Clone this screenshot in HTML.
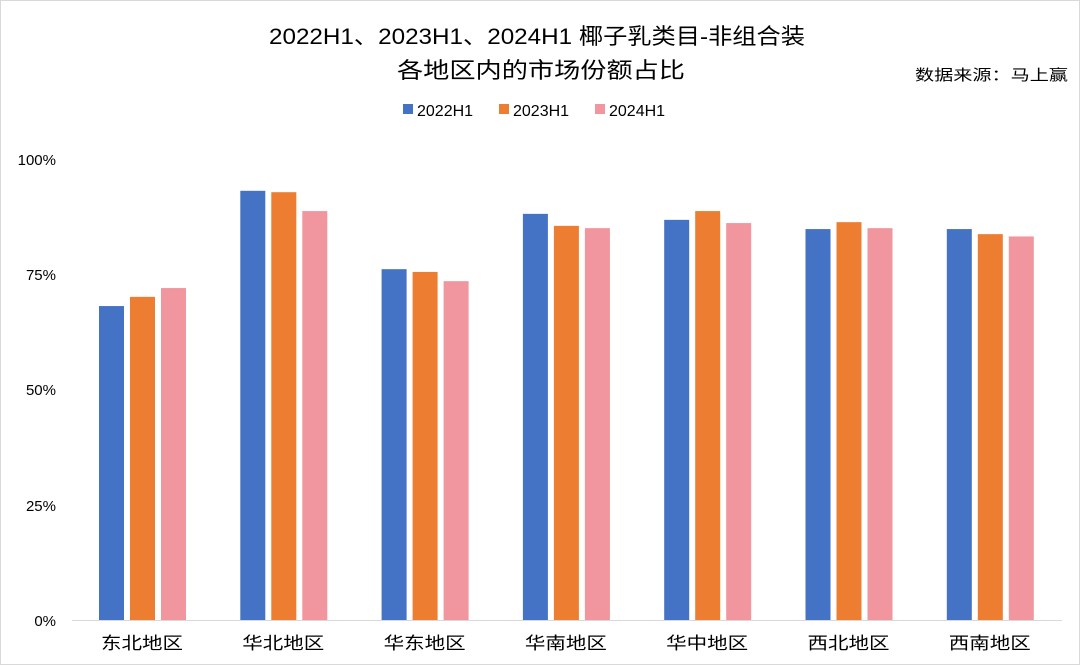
<!DOCTYPE html>
<html><head><meta charset="utf-8"><style>
html,body{margin:0;padding:0;background:#fff}
svg{display:block}
text{font-family:"Liberation Sans","Noto Sans CJK SC",sans-serif;fill:#000}
</style></head><body>
<svg width="1080" height="665" viewBox="0 0 1080 665" xmlns="http://www.w3.org/2000/svg">
<rect x="0.5" y="0.5" width="1079" height="664" fill="#fff" stroke="#d9d9d9"/>
<text x="269" y="44" font-size="22" textLength="536" lengthAdjust="spacingAndGlyphs">2022H1、2023H1、2024H1 椰子乳类目-非组合装</text>
<text x="397" y="78" font-size="22" textLength="288" lengthAdjust="spacingAndGlyphs">各地区内的市场份额占比</text>
<text x="915" y="80" font-size="15" textLength="153" lengthAdjust="spacingAndGlyphs" fill="#333">数据来源：马上赢</text>
<rect x="403" y="104" width="10" height="10" fill="#4472C4"/><text x="417" y="116" font-size="16">2022H1</text>
<rect x="499" y="104" width="10" height="10" fill="#ED7D31"/><text x="513" y="116" font-size="16">2023H1</text>
<rect x="595" y="104" width="10" height="10" fill="#F1959F"/><text x="609" y="116" font-size="16">2024H1</text>
<g font-size="15" text-anchor="end">
<text x="56" y="165">100%</text><text x="56" y="280">75%</text><text x="56" y="395">50%</text><text x="56" y="511">25%</text><text x="56" y="626">0%</text>
</g>
<line x1="72" y1="620.5" x2="1062" y2="620.5" stroke="#d9d9d9"/>
<g id="bars"></g>
<g font-size="17" id="labels"></g>
<script>
var v=[[68.1,70.1,72.0],[93.1,92.8,88.7],[76.1,75.5,73.5],[88.1,85.5,85.0],[86.8,88.7,86.1],[84.8,86.3,85.0],[84.8,83.7,83.2]];
var n=["东北地区","华北地区","华东地区","华南地区","华中地区","西北地区","西南地区"];
var c=["#4472C4","#ED7D31","#F1959F"];var ns="http://www.w3.org/2000/svg";
var b=document.getElementById("bars"),l=document.getElementById("labels");
for(var i=0;i<7;i++){var cx=142+i*141.3;
for(var j=0;j<3;j++){var h=v[i][j]*4.61;var r=document.createElementNS(ns,"rect");
r.setAttribute("x",cx-43+j*31);r.setAttribute("y",620-h);r.setAttribute("width",25);r.setAttribute("height",h);r.setAttribute("fill",c[j]);b.appendChild(r);}
var t=document.createElementNS(ns,"text");t.setAttribute("x",cx-41);t.setAttribute("y",649);t.setAttribute("textLength",82);t.setAttribute("lengthAdjust","spacingAndGlyphs");t.textContent=n[i];l.appendChild(t);}
</script>
</svg>
</body></html>
